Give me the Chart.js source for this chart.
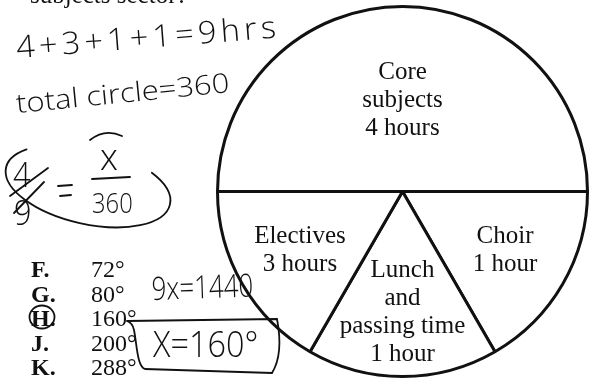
<!DOCTYPE html>
<html>
<head>
    <title>School Day Circle Graph</title>
    <script src="https://cdn.jsdelivr.net/npm/chart.js"></script>
    <style>
        body {
            margin: 0;
            background: #fff;
        }
        canvas {
            display: block;
        }
    </style>
</head>
<body>
    <canvas id="pieChart" width="589" height="382"></canvas>

    <script>
        // sectors in drawing order (clockwise from the left end of the diameter)
        const sectorLabelLines = [['Core', 'subjects'], ['Choir'], ['Lunch', 'and', 'passing time'], ['Electives']];
        const sectorHours = [4, 1, 1, 3];
        // angles as drawn in the figure (not to scale with the hours)
        const drawnDegrees = [180, 60, 60, 60];

        // answer choices
        const choiceLetters = ['F.', 'G.', 'H.', 'J.', 'K.'];
        const choiceDegrees = ['72°', '80°', '160°', '200°', '288°'];

        // handwritten working
        const workSum = '4+3+1+1=9hrs';
        const workTotal = 'total circle=360';
        const workCross = '9x=1440';
        const workAnswer = 'X=160°';

        function hoursText(h) {
            return h + (h === 1 ? ' hour' : ' hours');
        }

        const serif = '"Liberation Serif", "Times New Roman", serif';
        const hand = '"Open Sans", "DejaVu Sans", sans-serif';

        function handText(ctx, text, x, y, size, angleDeg, sx, spacing) {
            ctx.save();
            ctx.translate(x, y);
            ctx.rotate(angleDeg * Math.PI / 180);
            ctx.scale(sx, 1);
            ctx.font = '300 ' + size + 'px ' + hand;
            ctx.letterSpacing = (spacing || 0) + 'px';
            ctx.fillText(text, 0, 0);
            ctx.restore();
        }

        const sectorLabels = {
            id: 'sectorLabels',
            afterDatasetsDraw(chart, args, opts) {
                const ctx = chart.ctx;
                const arcs = chart.getDatasetMeta(0).data;
                ctx.save();
                ctx.fillStyle = '#111';
                ctx.font = '25px ' + serif;
                ctx.textAlign = 'center';
                ctx.textBaseline = 'middle';
                arcs.forEach((arc, i) => {
                    const p = arc.getProps(['x', 'y', 'startAngle', 'endAngle', 'outerRadius']);
                    const mid = (p.startAngle + p.endAngle) / 2;
                    const r = p.outerRadius * opts.radii[i];
                    const cx = p.x + Math.cos(mid) * r;
                    const cy = p.y + Math.sin(mid) * r;
                    const lines = sectorLabelLines[i].concat(hoursText(sectorHours[i]));
                    lines.forEach((t, k) => {
                        ctx.fillText(t, cx, cy + (k - (lines.length - 1) / 2) * opts.lineHeight);
                    });
                });
                ctx.restore();
            }
        };

        // question text, answer choices and pencil work around the graph
        const pageNotes = {
            id: 'pageNotes',
            beforeDraw(chart) {
                const ctx = chart.ctx;
                ctx.save();
                ctx.fillStyle = '#fff';
                ctx.fillRect(0, 0, chart.width, chart.height);
                ctx.restore();
            },
            afterDraw(chart) {
                const ctx = chart.ctx;
                ctx.save();
                ctx.fillStyle = '#111';
                ctx.strokeStyle = '#111';
                ctx.textBaseline = 'alphabetic';

                // cut-off question line
                ctx.font = '25px ' + serif;
                ctx.fillText('subjects sector?', 30, 3);

                // answer choices
                choiceLetters.forEach((l, i) => {
                    const y = 277 + i * 24.5;
                    ctx.font = 'bold 24px ' + serif;
                    ctx.fillText(l, 31, y);
                    ctx.font = '24px ' + serif;
                    ctx.fillText(choiceDegrees[i], 91, y);
                });

                // pencil work
                ctx.lineWidth = 1.8;
                ctx.lineCap = 'round';
                handText(ctx, workSum, 17, 58, 31, -4.5, 1.05, 4);
                handText(ctx, workTotal, 17, 113, 27, -5.6, 1.15, 0);

                // 4/9 = x/360
                handText(ctx, '4', 13, 187, 34, 0, 0.9);
                handText(ctx, '9', 14, 225, 34, 0, 0.9);
                ctx.beginPath();
                ctx.moveTo(10, 196); ctx.lineTo(48, 168);
                ctx.moveTo(14, 213); ctx.lineTo(44, 182);
                ctx.moveTo(58, 186); ctx.lineTo(72, 185);
                ctx.moveTo(60, 196); ctx.lineTo(71, 195);
                ctx.moveTo(92, 179); ctx.lineTo(130, 177);
                ctx.stroke();
                handText(ctx, 'x', 100, 170, 36, 0, 1.0);
                handText(ctx, '360', 92, 213, 28, 0, 0.85);
                ctx.beginPath();
                ctx.ellipse(88, 186, 84, 38, 0.22, -0.25 * Math.PI, 1.2 * Math.PI);
                ctx.stroke();
                ctx.beginPath();
                ctx.moveTo(90, 140); ctx.quadraticCurveTo(105, 128, 122, 136);
                ctx.stroke();

                handText(ctx, workCross, 152, 300, 32, -2, 0.81);
                handText(ctx, workAnswer, 153, 357, 36, 0, 0.9);

                // box round the answer
                ctx.beginPath();
                ctx.moveTo(127, 321);
                ctx.lineTo(277, 319);
                ctx.bezierCurveTo(281, 340, 280, 360, 272, 373);
                ctx.lineTo(145, 369);
                ctx.bezierCurveTo(137, 366, 137, 345, 134, 330);
                ctx.bezierCurveTo(133, 325, 130, 322, 127, 321);
                ctx.stroke();

                // circled choice letter
                ctx.beginPath();
                ctx.ellipse(42, 317, 12.5, 11.5, 0, 0, 2 * Math.PI);
                ctx.stroke();
                ctx.restore();
            }
        };

        new Chart(document.getElementById('pieChart'), {
            type: 'pie',
            data: {
                labels: sectorLabelLines.map(l => l.join(' ')),
                datasets: [{
                    data: drawnDegrees,
                    backgroundColor: '#fff',
                    borderColor: '#111',
                    borderWidth: 3
                }]
            },
            options: {
                responsive: false,
                animation: false,
                events: [],
                rotation: -90,
                layout: {
                    padding: { left: 216, top: 5, right: 0, bottom: 4 }
                },
                plugins: {
                    legend: { display: false },
                    tooltip: { enabled: false },
                    sectorLabels: { radii: [0.49, 0.64, 0.655, 0.64], lineHeight: 28 }
                }
            },
            plugins: [sectorLabels, pageNotes]
        });
    </script>
</body>
</html>
